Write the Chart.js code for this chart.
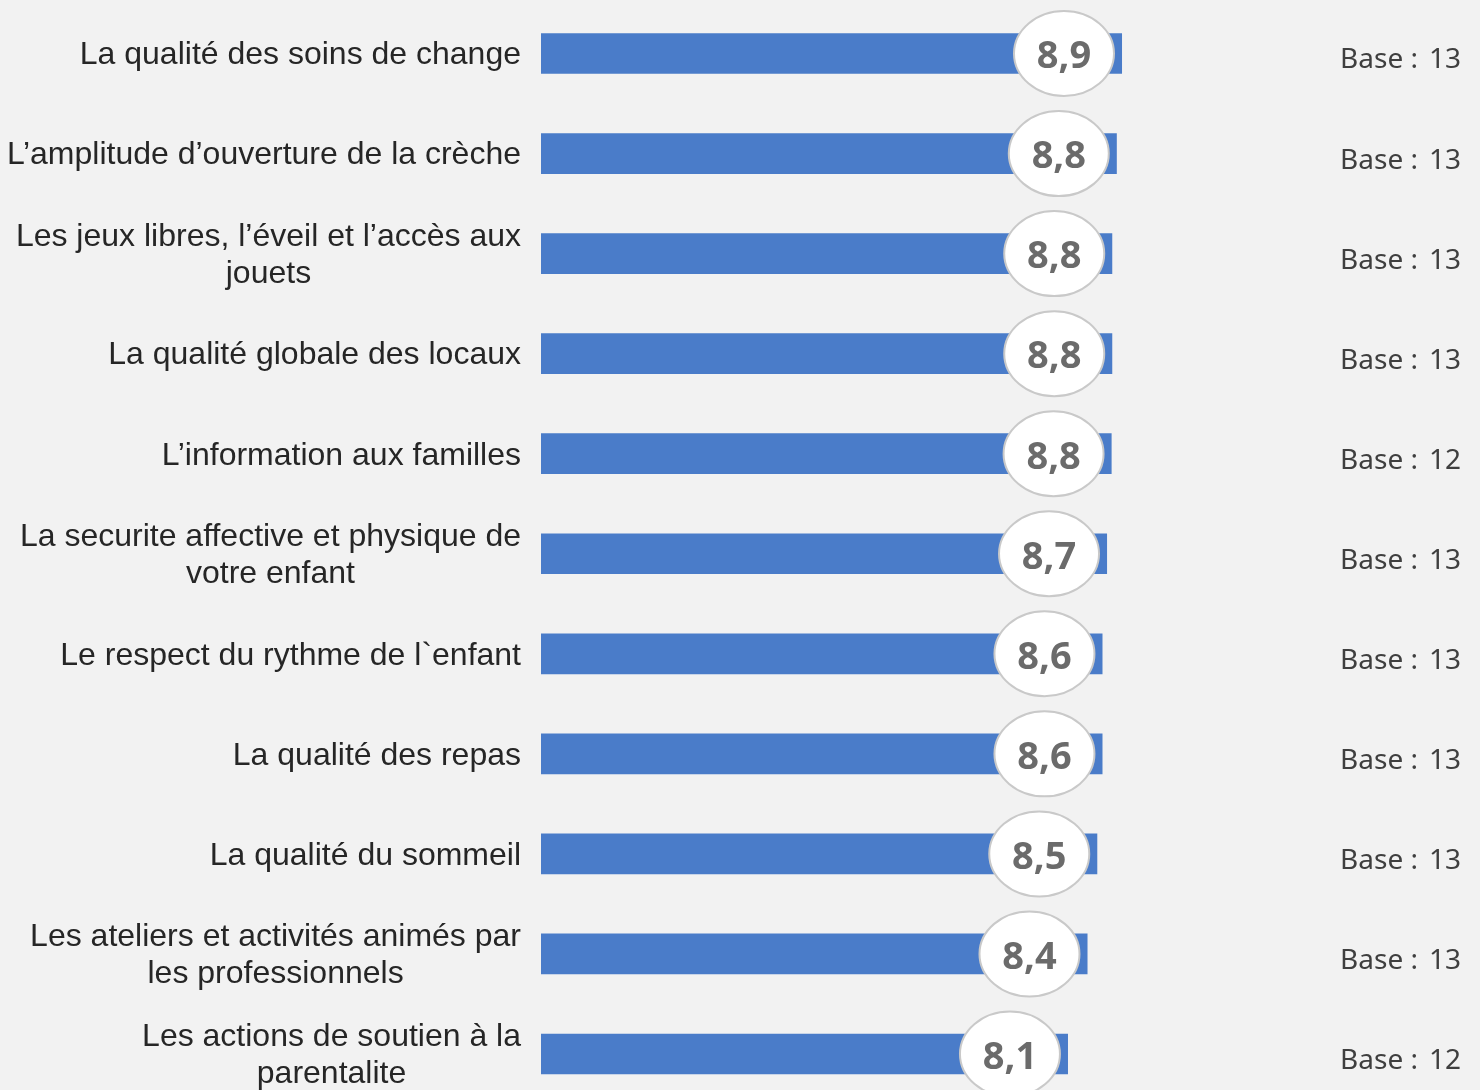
<!DOCTYPE html>
<html>
<head>
<meta charset="utf-8">
<script src="https://cdn.jsdelivr.net/npm/chart.js@4/dist/chart.umd.min.js"></script>
<style>
  html, body { margin: 0; padding: 0; background: #f2f2f2; overflow: hidden; }
  #wrap { width: 1480px; height: 1090px; overflow: hidden; position: relative; }
  canvas { display: block; }
</style>
</head>
<body>
<div id="wrap"><canvas id="c" width="1480" height="1104" style="width:1480px;height:1104px"></canvas></div>
<script>
const categories = [
  "La qualité des soins de change",
  "L’amplitude d’ouverture de la crèche",
  ["Les jeux libres, l’éveil et l’accès aux", "jouets"],
  "La qualité globale des locaux",
  "L’information aux familles",
  ["La securite affective et physique de", "votre enfant"],
  "Le respect du rythme de l`enfant",
  "La qualité des repas",
  "La qualité du sommeil",
  ["Les ateliers et activités animés par", "les professionnels"],
  ["Les actions de soutien à la", "parentalite"]
];
const scores = [8.92, 8.84, 8.77, 8.77, 8.76, 8.69, 8.62, 8.62, 8.54, 8.39, 8.09];
const bases = [13, 13, 13, 13, 12, 13, 13, 13, 13, 13, 12];
const axisMin = 0;
const axisMax = 10;

const fmt = v => v.toFixed(1).replace('.', ',');

const customDraw = {
  id: 'customDraw',
  afterDatasetsDraw(chart) {
    const ctx = chart.ctx;
    const meta = chart.getDatasetMeta(0);
    const yScale = chart.scales.y;
    ctx.save();
    // category labels: block right-aligned, lines centred within block
    ctx.font = '32px "Liberation Sans", Arial, sans-serif';
    ctx.fillStyle = '#262626';
    ctx.textBaseline = 'middle';
    ctx.textAlign = 'center';
    const rightEdge = yScale.right - 20;
    const lineH = 37;
    categories.forEach((lab, i) => {
      const lines = Array.isArray(lab) ? lab : [lab];
      const yc = yScale.getPixelForValue(i) + 2;
      const maxW = Math.max(...lines.map(l => ctx.measureText(l).width));
      const cx = rightEdge - maxW / 2;
      const y0 = yc - (lines.length - 1) * lineH / 2;
      lines.forEach((l, k) => ctx.fillText(l, cx, y0 + k * lineH));
    });
    // value bubbles
    meta.data.forEach((bar, i) => {
      const cx = bar.x - 57.7;
      const cy = bar.y;
      ctx.beginPath();
      ctx.ellipse(cx, cy, 50, 42.5, 0, 0, Math.PI * 2);
      ctx.fillStyle = '#ffffff';
      ctx.fill();
      ctx.lineWidth = 2;
      ctx.strokeStyle = '#c9c9c9';
      ctx.stroke();
      ctx.fillStyle = '#6b6b6b';
      ctx.font = 'bold 38px "Open Sans", sans-serif';
      ctx.textAlign = 'center';
      ctx.textBaseline = 'middle';
      ctx.fillText(fmt(scores[i]), cx, cy + 4);
    });
    // base counts
    ctx.fillStyle = '#3f3f3f';
    ctx.font = '28px "Noto Sans", sans-serif';
    ctx.textBaseline = 'middle';
    meta.data.forEach((bar, i) => {
      const y = bar.y + 7;
      ctx.textAlign = 'right';
      ctx.fillText('Base :', 1418, y);
      ctx.fillText(String(bases[i]), 1461, y);
    });
    ctx.restore();
  }
};

new Chart(document.getElementById('c'), {
  type: 'bar',
  data: {
    labels: categories,
    datasets: [{
      data: scores,
      backgroundColor: '#4a7cc9',
      borderWidth: 0,
      barThickness: 40
    }]
  },
  options: {
    indexAxis: 'y',
    responsive: false,
    animation: false,
    devicePixelRatio: 1,
    layout: { padding: { top: 3.5, bottom: 0, left: 0, right: 288 } },
    plugins: { legend: { display: false }, tooltip: { enabled: false } },
    scales: {
      x: { display: false, min: axisMin, max: axisMax },
      y: {
        display: true,
        grid: { display: false },
        border: { display: false },
        ticks: { display: false },
        afterFit(scale) { scale.width = 541; }
      }
    }
  },
  plugins: [customDraw]
});
</script>
</body>
</html>
